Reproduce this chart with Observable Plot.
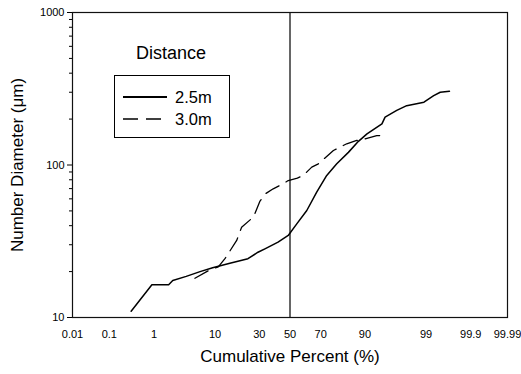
<!DOCTYPE html>
<html><head><meta charset="utf-8">
<script src="https://cdn.jsdelivr.net/npm/d3@7"></script>
<script src="https://cdn.jsdelivr.net/npm/@observablehq/plot@0.6"></script>
<style>
body{margin:0;background:#fff;}
#wrap{position:relative;width:521px;height:374px;font-family:Arial,"Liberation Sans",Helvetica,sans-serif;color:#000;}
#legTitle{position:absolute;left:100px;top:43px;width:142px;text-align:center;font-size:18px;}
#legBox{position:absolute;left:114px;top:75px;width:114px;height:61px;border:1px solid #000;background:#fff;}
.legRow{position:absolute;left:8px;height:20px;display:flex;align-items:center;font-size:16.5px;}
.legRow svg{margin-right:8px;}
</style></head><body><div id="wrap"></div>
<script>
const seriesNames = ["2.5m", "3.0m"];
const seriesDash = ["none", "15,8"];

// 2.5m: cumulative percent and number diameter (µm)
const pct25 = [0.33, 0.91, 1.9, 2.25, 3.8, 6.2, 9.3, 15.2, 23.6, 29.2, 33.4, 41.9, 48.8, 54.6, 61.3, 67.6, 73.5, 78.8, 84.1, 87.9, 90.6, 94.2, 94.8, 96.6, 97.7, 98.9, 99.3, 99.49, 99.68];
const dia25 = [11.0, 16.4, 16.4, 17.5, 18.6, 20.0, 21.2, 22.7, 24.3, 26.8, 28.2, 31.2, 34.5, 41.1, 50.3, 66.3, 85.4, 101.8, 121, 143, 160, 186, 206, 228, 245, 258, 285, 300, 305];

// 3.0m
const pct30 = [5.2, 8.5, 11, 13.3, 18.1, 20.4, 26.5, 27.4, 30.4, 34, 38.7, 45.2, 48.8, 55, 59, 64.5, 68.6, 77.1, 83.4, 87.3, 89, 93.1, 94.5];
const dia30 = [18.1, 20.5, 21.5, 24.3, 32.0, 39.1, 45.5, 47.9, 58.0, 65, 69.8, 75.3, 79.1, 82, 85.4, 96.8, 101.8, 124.5, 137.8, 144.8, 146, 156, 156];

const xTickPercents = [0.01, 0.1, 1, 10, 30, 50, 70, 90, 99, 99.9, 99.99];
const xTickLabels = ["0.01", "0.1", "1", "10", "30", "50", "70", "90", "99", "99.9", "99.99"];
const xDomainPercent = [0.01, 99.99];
const yDomain = [10, 1000];
const yMajorTicks = [10, 100, 1000];
const yMinorTicks = [20, 30, 40, 50, 60, 70, 80, 90, 200, 300, 400, 500, 600, 700, 800, 900];
const medianPercent = [50];
const xTitle = "Cumulative Percent (%)";
const yTitle = "Number Diameter (\u03bcm)";
const legendTitle = "Distance";

// inverse normal CDF (probability scale)
function probit(p){
  const a=[-3.969683028665376e+01,2.209460984245205e+02,-2.759285104469687e+02,1.383577518672690e+02,-3.066479806614716e+01,2.506628277459239e+00];
  const b=[-5.447609879822406e+01,1.615858368580409e+02,-1.556989798598866e+02,6.680131188771972e+01,-1.328068155288572e+01];
  const c=[-7.784894002430293e-03,-3.223964580411365e-01,-2.400758277161838e+00,-2.549732539343734e+00,4.374664141464968e+00,2.938163982698783e+00];
  const d=[7.784695709041462e-03,3.224671290700398e-01,2.445134137142996e+00,3.754408661907416e+00];
  const pl=0.02425;
  if(p<pl){const q=Math.sqrt(-2*Math.log(p));return (((((c[0]*q+c[1])*q+c[2])*q+c[3])*q+c[4])*q+c[5])/((((d[0]*q+d[1])*q+d[2])*q+d[3])*q+1);}
  if(p>1-pl){const q=Math.sqrt(-2*Math.log(1-p));return -(((((c[0]*q+c[1])*q+c[2])*q+c[3])*q+c[4])*q+c[5])/((((d[0]*q+d[1])*q+d[2])*q+d[3])*q+1);}
  const q=p-0.5,r=q*q;
  return (((((a[0]*r+a[1])*r+a[2])*r+a[3])*r+a[4])*r+a[5])*q/(((((b[0]*r+b[1])*r+b[2])*r+b[3])*r+b[4])*r+1);
}
const pz = pc => probit(pc / 100);

const rows25 = pct25.map((p, i) => ({series: seriesNames[0], pct: p, dia: dia25[i]}));
const rows30 = pct30.map((p, i) => ({series: seriesNames[1], pct: p, dia: dia30[i]}));
const xTicksZ = xTickPercents.map(pz);

const chart = Plot.plot({
  width: 521, height: 374,
  marginLeft: 72, marginRight: 14, marginTop: 12, marginBottom: 57,
  style: {fontFamily: "Arial, 'Liberation Sans', Helvetica, sans-serif", fontSize: "11px", color: "#000", background: "#fff"},
  x: {domain: xDomainPercent.map(pz)},
  y: {type: "log", domain: yDomain},
  marks: [
    Plot.axisX({ticks: xTicksZ, tickSize: 0, tickPadding: 13, label: null,
      tickFormat: z => xTickLabels[xTicksZ.findIndex(t => Math.abs(t - z) < 1e-9)]}),
    Plot.axisY({ticks: yMajorTicks, tickSize: 5, tickPadding: 3, label: null, tickFormat: d => String(d)}),
    Plot.axisY({ticks: yMinorTicks, tickSize: 3, label: null, tickFormat: () => ""}),
    Plot.ruleX(medianPercent, {x: pz, stroke: "#333", strokeWidth: 1.5}),
    Plot.frame({stroke: "#111", strokeWidth: 1.2}),
    Plot.line(rows25, {x: d => pz(d.pct), y: "dia", stroke: "#000", strokeWidth: 1.5, curve: "linear"}),
    Plot.line(rows30, {x: d => pz(d.pct), y: "dia", stroke: "#000", strokeWidth: 1.3, strokeDasharray: seriesDash[1]}),
    Plot.text([xTitle], {text: d => d, frameAnchor: "bottom", dy: 44, fontSize: 17}),
    Plot.text([yTitle], {text: d => d, frameAnchor: "left", textAnchor: "middle", dx: -55, rotate: -90, fontSize: 17})
  ]
});

const wrap = document.getElementById("wrap");
wrap.appendChild(chart);

const lt = document.createElement("div");
lt.id = "legTitle"; lt.textContent = legendTitle;
wrap.appendChild(lt);
const box = document.createElement("div");
box.id = "legBox";
seriesNames.forEach((name, i) => {
  const row = document.createElement("div");
  row.className = "legRow";
  row.style.top = (11 + i * 22) + "px";
  const dash = seriesDash[i] === "none" ? "" : ` stroke-dasharray="${seriesDash[i]}"`;
  row.innerHTML = `<svg width="44" height="6"><line x1="0" y1="3" x2="44" y2="3" stroke="#000" stroke-width="${i === 0 ? 2 : 1.3}"${dash}/></svg><span>${name}</span>`;
  box.appendChild(row);
});
wrap.appendChild(box);
</script></body></html>
